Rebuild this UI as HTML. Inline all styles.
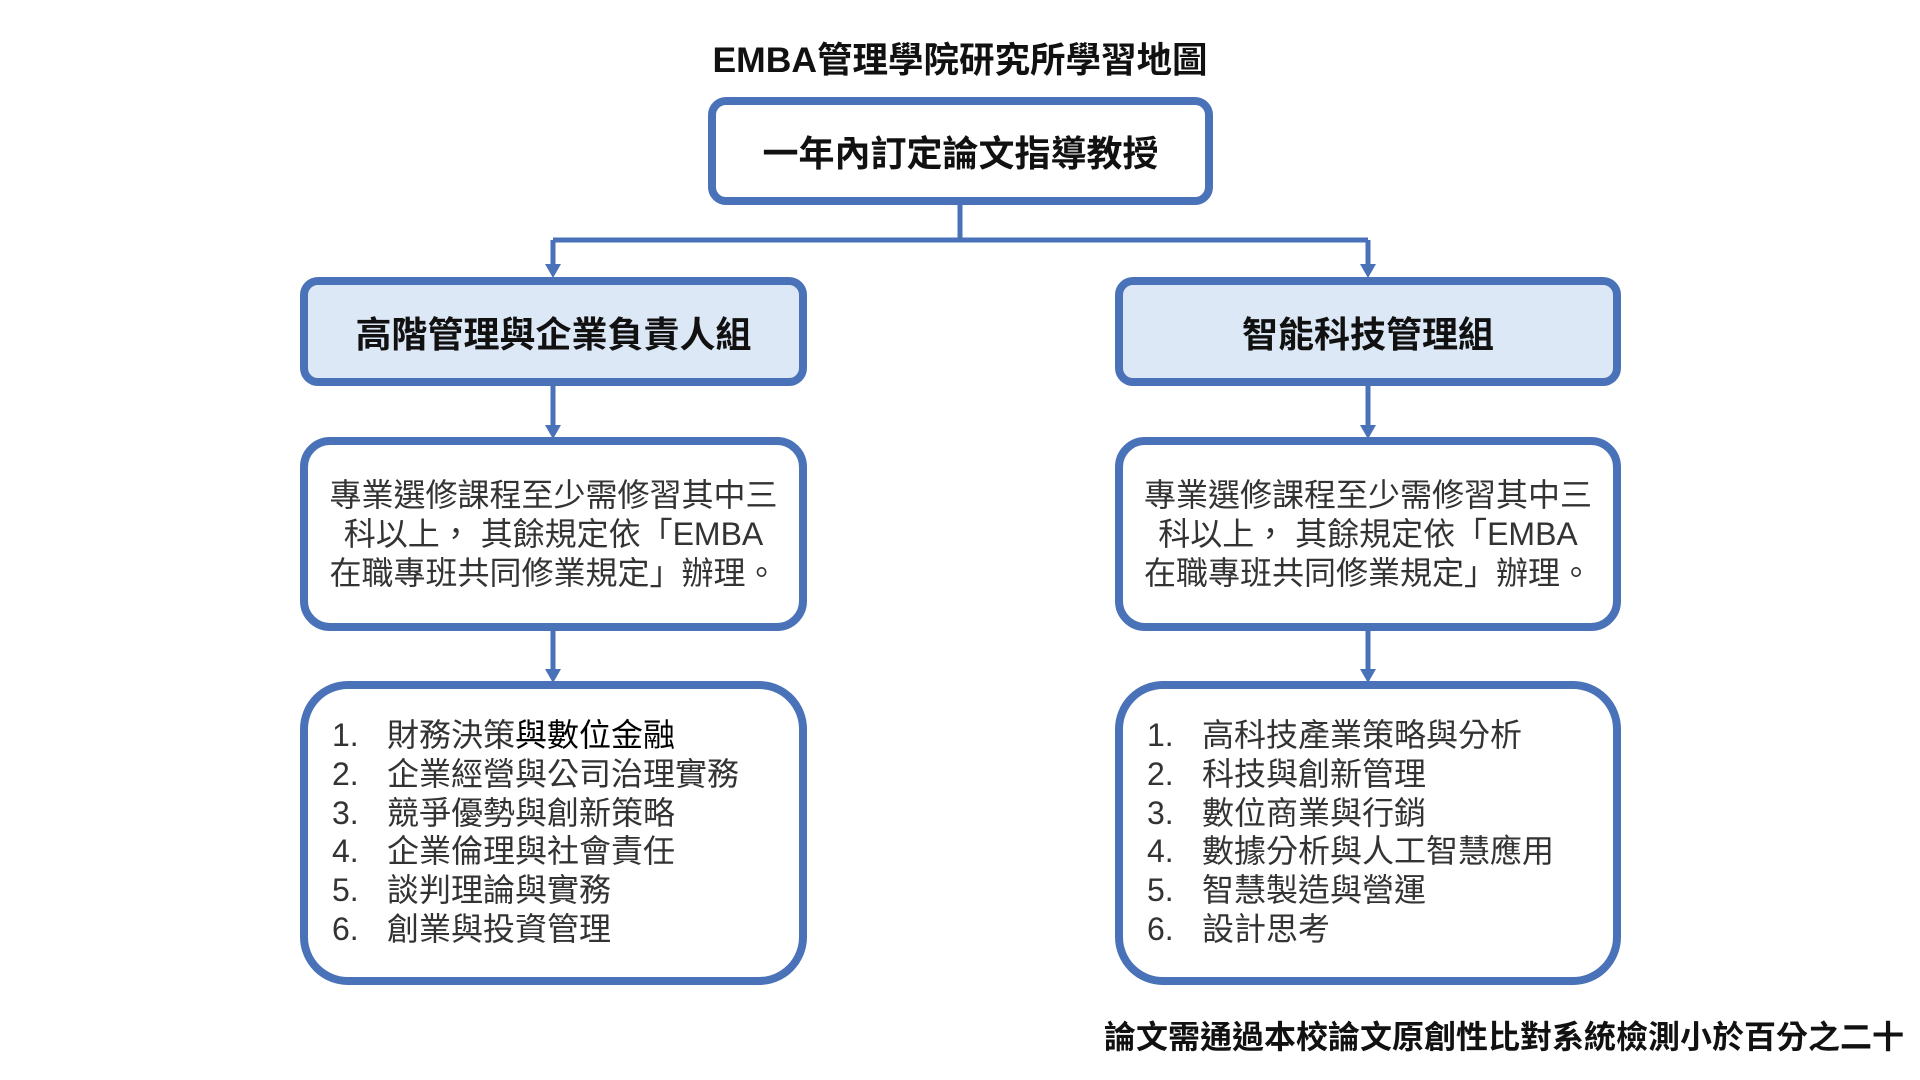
<!DOCTYPE html>
<html><head><meta charset="utf-8">
<style>
body{margin:0;width:1920px;height:1080px;background:#fff;position:relative;overflow:hidden;font-family:"Liberation Sans","Noto Sans CJK TC",sans-serif;color:#111}
.b{position:absolute;box-sizing:border-box;border:8px solid #4a72b8;background:#fff;display:flex;align-items:center;justify-content:center;text-align:center}
.t{position:absolute;white-space:nowrap}
.mid{font-size:32px;line-height:39px;color:#333}
.list{position:absolute;font-size:32px;line-height:38.8px;color:#333}
.list div span{display:inline-block;width:55px}
</style></head><body>
<div class="t" style="left:0;width:1920px;top:32px;text-align:center;font-size:35.5px;font-weight:bold">EMBA管理學院研究所學習地圖</div>
<div class="b" style="left:708px;top:97px;width:505px;height:108px;border-radius:18px;font-size:36px;font-weight:bold">一年內訂定論文指導教授</div>
<svg style="position:absolute;left:0;top:0" width="1920" height="1080">
<g stroke="#4a72b8" stroke-width="5" fill="none">
<path d="M960 204V240M553 240H1368M553 240V266M1368 240V266"/>
<path d="M553 386V428M1368 386V428M553 631V672M1368 631V672"/>
</g>
<g fill="#4a72b8">
<path d="M545 264h16l-8 14z"/><path d="M1360 264h16l-8 14z"/>
<path d="M545 425h16l-8 14z"/><path d="M1360 425h16l-8 14z"/>
<path d="M545 669h16l-8 14z"/><path d="M1360 669h16l-8 14z"/>
</g>
</svg>
<div class="b" style="left:300px;top:277px;width:507px;height:109px;border-radius:18px;background:#dde8f6;font-size:36px;font-weight:bold">高階管理與企業負責人組</div>
<div class="b" style="left:1115px;top:277px;width:506px;height:109px;border-radius:18px;background:#dde8f6;font-size:36px;font-weight:bold">智能科技管理組</div>
<div class="b mid" style="left:300px;top:437px;width:507px;height:194px;border-radius:30px">專業選修課程至少需修習其中三<br>科以上， 其餘規定依「EMBA<br>在職專班共同修業規定」辦理。</div>
<div class="b mid" style="left:1115px;top:437px;width:506px;height:194px;border-radius:30px">專業選修課程至少需修習其中三<br>科以上， 其餘規定依「EMBA<br>在職專班共同修業規定」辦理。</div>
<div class="b" style="left:300px;top:681px;width:507px;height:304px;border-radius:48px"></div>
<div class="b" style="left:1115px;top:681px;width:506px;height:304px;border-radius:48px"></div>
<div class="list" style="left:332px;top:716px">
<div><span>1.</span>財務決策<b style="font-weight:normal;color:#000">與數位金融</b></div>
<div><span>2.</span>企業經營與公司治理實務</div>
<div><span>3.</span>競爭優勢與創新策略</div>
<div><span>4.</span>企業倫理與社會責任</div>
<div><span>5.</span>談判理論與實務</div>
<div><span>6.</span>創業與投資管理</div>
</div>
<div class="list" style="left:1147px;top:716px">
<div><span>1.</span>高科技產業策略與分析</div>
<div><span>2.</span>科技與創新管理</div>
<div><span>3.</span>數位商業與行銷</div>
<div><span>4.</span>數據分析與人工智慧應用</div>
<div><span>5.</span>智慧製造與營運</div>
<div><span>6.</span>設計思考</div>
</div>
<div class="t" style="right:16px;top:1012px;font-size:32px;font-weight:bold">論文需通過本校論文原創性比對系統檢測小於百分之二十</div>
</body></html>
